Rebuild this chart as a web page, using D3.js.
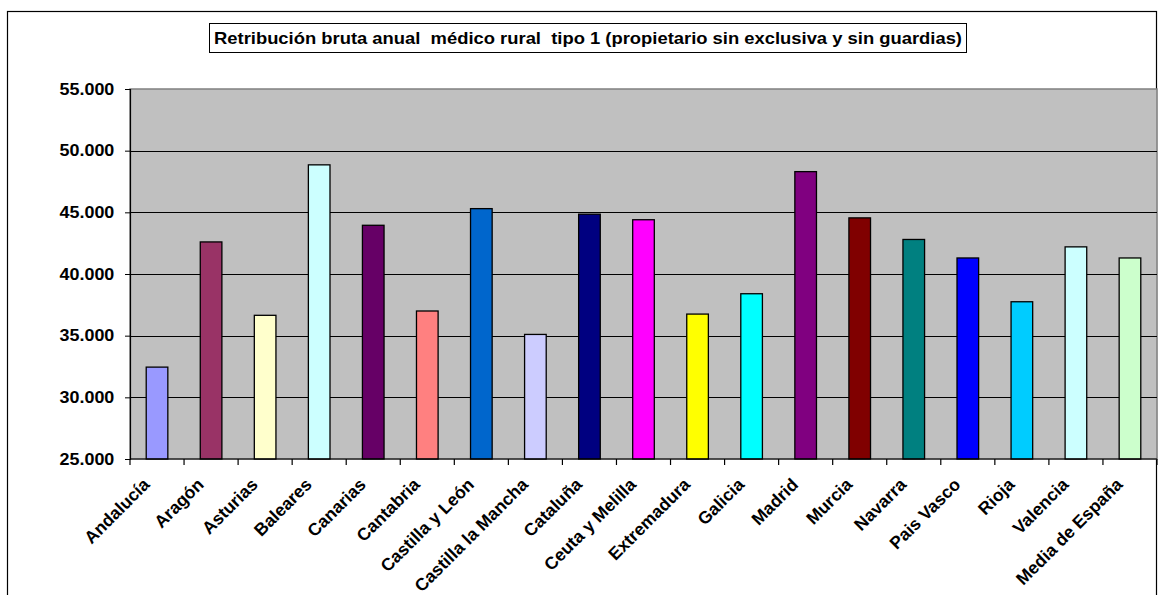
<!DOCTYPE html>
<html lang="es">
<head>
<meta charset="UTF-8">
<title>Retribución bruta anual médico rural</title>
<style>
  body { margin: 0; background: #fff; font-family: "Liberation Sans", Arial, sans-serif; }
  svg text { font-weight: bold; fill: #000; }
</style>
</head>
<body>
<script src="https://cdn.jsdelivr.net/npm/d3@7/dist/d3.min.js"></script>
<div id="chart"></div>
<script>
// data
var regions = ["Andalucía", "Aragón", "Asturias", "Baleares", "Canarias", "Cantabria",
  "Castilla y León", "Castilla la Mancha", "Cataluña", "Ceuta y Melilla", "Extremadura",
  "Galicia", "Madrid", "Murcia", "Navarra", "Pais Vasco", "Rioja", "Valencia", "Media de España"]
var salaries = [32450, 42600, 36650, 48850, 43950, 37000, 45300, 35100, 44850, 44400, 36750,
  38400, 48300, 44550, 42800, 41300, 37750, 42200, 41300]
var barColors = ["#9999FF", "#993366", "#FFFFCC", "#CCFFFF", "#660066", "#FF8080", "#0066CC",
  "#CCCCFF", "#000080", "#FF00FF", "#FFFF00", "#00FFFF", "#800080", "#800000", "#008080",
  "#0000FF", "#00CCFF", "#CCFFFF", "#CCFFCC"]
var yTicks = [25000, 30000, 35000, 40000, 45000, 50000, 55000]
var title = "Retribución bruta anual  médico rural  tipo 1 (propietario sin exclusiva y sin guardias)"

var width = 1158, height = 595
var plot = {left: 130, right: 1157, top: 89, bottom: 459}

var svg = d3.select("#chart").append("svg")
  .attr("width", width).attr("height", height)

// chart area border
svg.append("rect")
  .attr("x", 7.5).attr("y", 11.5)
  .attr("width", 1149).attr("height", 600)
  .attr("fill", "#fff").attr("stroke", "#000").attr("stroke-width", 1.2)

var es = d3.formatLocale({decimal: ",", thousands: ".", grouping: [3], currency: ["", ""]})

var x = d3.scaleBand().domain(regions)
  .range([plot.left, plot.right])
  .paddingInner(0.6).paddingOuter(0.3)
var y = d3.scaleLinear().domain([25000, 55000]).range([plot.bottom, plot.top])

// plot background
svg.append("rect")
  .attr("x", plot.left).attr("y", plot.top)
  .attr("width", plot.right - plot.left).attr("height", plot.bottom - plot.top)
  .attr("fill", "#C0C0C0").attr("stroke", "#808080").attr("stroke-width", 1.5)

// gridlines
svg.append("g").selectAll("line")
  .data(yTicks.slice(1, -1))
  .join("line")
  .attr("x1", plot.left).attr("x2", plot.right)
  .attr("y1", d => Math.round(y(d)) + 0.5).attr("y2", d => Math.round(y(d)) + 0.5)
  .attr("stroke", "#000").attr("stroke-width", 1)

// bars
svg.append("g").selectAll("rect")
  .data(regions)
  .join("rect")
  .attr("x", d => x(d))
  .attr("y", (d, i) => y(salaries[i]))
  .attr("width", x.bandwidth())
  .attr("height", (d, i) => y(25000) - y(salaries[i]))
  .attr("fill", (d, i) => barColors[i])
  .attr("stroke", "#000").attr("stroke-width", 1.3)

// y axis
var yAxis = d3.axisLeft(y).tickValues(yTicks).tickSize(5).tickPadding(9)
  .tickFormat(es.format(","))
var gy = svg.append("g")
  .attr("transform", "translate(" + plot.left + ",0)")
  .call(yAxis)
gy.select(".domain").attr("stroke", "#000").attr("stroke-width", 1.2)
gy.selectAll("text")
  .style("font-family", "'Liberation Sans', Arial, sans-serif")
  .style("font-size", "16px").style("font-weight", "bold")
  .attr("transform", "scale(1.12,1)")

// x axis: line, ticks between categories, rotated labels
svg.append("line")
  .attr("x1", plot.left).attr("x2", plot.right)
  .attr("y1", plot.bottom).attr("y2", plot.bottom)
  .attr("stroke", "#000").attr("stroke-width", 1.2)

var bounds = d3.range(regions.length + 1).map(i => plot.left + i * x.step())
svg.append("g").selectAll("line")
  .data(bounds)
  .join("line")
  .attr("x1", d => d).attr("x2", d => d)
  .attr("y1", plot.bottom).attr("y2", plot.bottom + 6)
  .attr("stroke", "#000").attr("stroke-width", 1.2)

svg.append("g").selectAll("text")
  .data(regions)
  .join("text")
  .attr("transform", d => "translate(" + (x(d) + x.bandwidth() / 2 - 15) + "," + (plot.bottom + 18) + ") rotate(-45)")
  .attr("text-anchor", "end")
  .attr("dy", "0.7em")
  .style("font-size", "17.5px")
  .text(d => d)

// title box
svg.append("rect")
  .attr("x", 209.5).attr("y", 23.5)
  .attr("width", 757).attr("height", 29)
  .attr("fill", "#fff").attr("stroke", "#000").attr("stroke-width", 1)
svg.append("text")
  .attr("x", 214).attr("y", 44)
  .attr("textLength", 748).attr("lengthAdjust", "spacingAndGlyphs")
  .style("font-size", "16.5px")
  .style("white-space", "pre")
  .text(title)
</script>
</body>
</html>
